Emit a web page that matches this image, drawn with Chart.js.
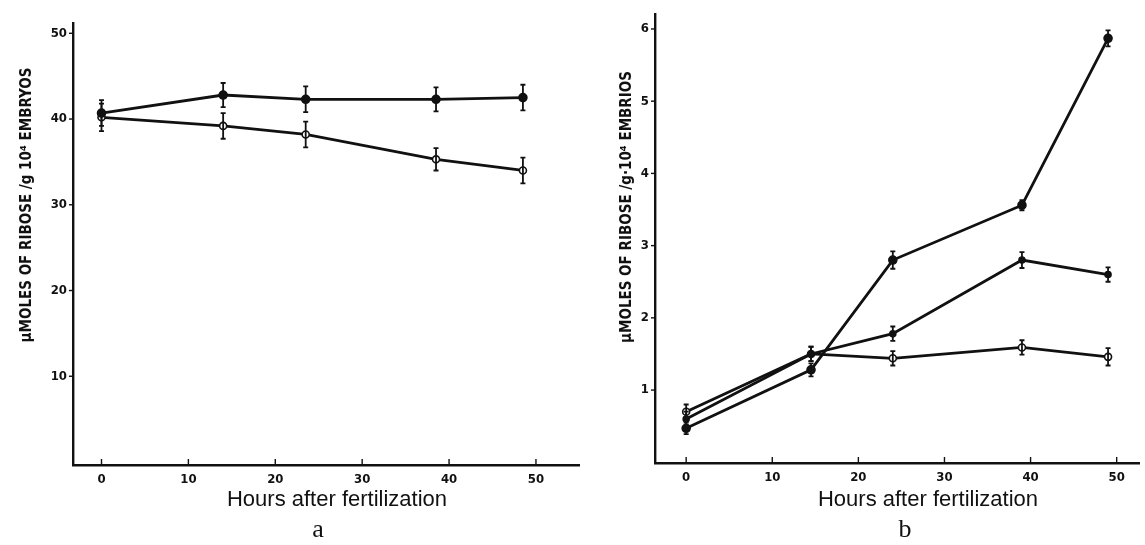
<!DOCTYPE html>
<html>
<head>
<meta charset="utf-8">
<script src="https://cdn.jsdelivr.net/npm/chart.js@4/dist/chart.umd.min.js"></script>
<style>
  body { margin: 0; background: #fff; }
  canvas { position: absolute; top: 0; }
  #chartA { left: 0; }
  #chartB { left: 585px; }
</style>
</head>
<body>
<canvas id="chartA" width="585" height="545"></canvas>
<canvas id="chartB" width="560" height="545"></canvas>
<script>
// panel a
const hoursA = [0, 14, 23.5, 38.5, 48.5];
const aFilled = [40.7, 42.8, 42.3, 42.3, 42.5];
const aFilledErr = [1.5, 1.4, 1.5, 1.4, 1.5];
const aOpen = [40.2, 39.2, 38.2, 35.3, 34.0];
const aOpenErr = [1.6, 1.5, 1.5, 1.3, 1.5];
const aXTicks = [0, 10, 20, 30, 40, 50];
const aYTicks = [10, 20, 30, 40, 50];

// panel b
const hoursB = [0, 14.5, 24, 39, 49];
const bSteep = [0.47, 1.28, 2.8, 3.56, 5.87];
const bSteepErr = [0.08, 0.09, 0.12, 0.07, 0.11];
const bMid = [0.6, 1.5, 1.78, 2.8, 2.6];
const bMidErr = [0.1, 0.1, 0.1, 0.11, 0.1];
const bFlat = [0.7, 1.5, 1.44, 1.59, 1.46];
const bFlatErr = [0.1, 0.1, 0.1, 0.1, 0.12];
const bXTicks = [0, 10, 20, 30, 40, 50];
const bYTicks = [1, 2, 3, 4, 5, 6];

const INK = '#111';
const TICK_FONT = { family: '"DejaVu Sans Condensed", "DejaVu Sans", sans-serif', size: 13, weight: 'bold' };

function series(xs, ys, errs, open, radius) {
    return {
        data: xs.map((x, i) => ({ x: x, y: ys[i] })),
        errs: errs,
        borderColor: INK,
        borderWidth: 2.8,
        pointRadius: radius,
        pointBorderWidth: 1.6,
        pointBorderColor: INK,
        pointBackgroundColor: open ? '#fff' : INK,
        tension: 0
    };
}

// error bars, inner tick marks and the hand placed texts
const decorations = {
    id: 'decorations',
    afterDatasetsDraw(chart, args, opts) {
        const ctx = chart.ctx;
        const xs = chart.scales.x, ys = chart.scales.y;
        ctx.save();
        ctx.strokeStyle = INK;
        ctx.lineWidth = 1.8;
        chart.data.datasets.forEach(ds => {
            ds.data.forEach((p, i) => {
                const e = ds.errs[i];
                const px = xs.getPixelForValue(p.x);
                const top = ys.getPixelForValue(p.y + e);
                const bot = ys.getPixelForValue(p.y - e);
                ctx.beginPath();
                ctx.moveTo(px, top); ctx.lineTo(px, bot);
                ctx.moveTo(px - 2.5, top); ctx.lineTo(px + 2.5, top);
                ctx.moveTo(px - 2.5, bot); ctx.lineTo(px + 2.5, bot);
                ctx.stroke();
            });
        });
        // x ticks point up into the plot, y ticks point out
        const area = chart.chartArea;
        ctx.lineWidth = 1.4;
        opts.xTicks.forEach(v => {
            const px = xs.getPixelForValue(v);
            ctx.beginPath();
            ctx.moveTo(px, area.bottom); ctx.lineTo(px, area.bottom - 6);
            ctx.stroke();
        });
        opts.yTicks.forEach(v => {
            const py = ys.getPixelForValue(v);
            ctx.beginPath();
            ctx.moveTo(area.left - 4, py); ctx.lineTo(area.left + 1, py);
            ctx.stroke();
        });

        ctx.fillStyle = INK;
        ctx.textAlign = 'center';
        ctx.textBaseline = 'middle';
        ctx.font = '22px "Liberation Sans", Arial, sans-serif';
        ctx.fillText('Hours after fertilization', opts.xTitle[0], opts.xTitle[1]);
        ctx.font = '26px "Liberation Serif", "DejaVu Serif", serif';
        ctx.fillText(opts.panel, opts.panelAt[0], opts.panelAt[1]);

        ctx.translate(opts.yTitle[0], opts.yTitle[1]);
        ctx.rotate(-Math.PI / 2);
        ctx.font = 'bold 15px "DejaVu Sans Condensed", "DejaVu Sans", sans-serif';
        ctx.fillText(opts.yText, 0, 0);
        ctx.restore();
    }
};

function makePanel(id, datasets, o) {
    return new Chart(document.getElementById(id), {
        type: 'line',
        data: { datasets: datasets },
        plugins: [decorations],
        options: {
            responsive: false,
            animation: false,
            layout: { padding: { top: o.top, right: o.right, left: 0, bottom: 0 } },
            plugins: {
                legend: { display: false },
                tooltip: { enabled: false },
                decorations: o.deco
            },
            scales: {
                x: {
                    type: 'linear',
                    min: o.xMin, max: o.xMax,
                    afterBuildTicks: s => { s.ticks = o.deco.xTicks.map(v => ({ value: v })); },
                    afterFit: s => { s.height = o.xHeight; },
                    grid: { drawOnChartArea: false, drawTicks: false },
                    border: { display: true, color: INK, width: 2.4 },
                    ticks: { color: INK, padding: 7, font: TICK_FONT }
                },
                y: {
                    min: o.yMin, max: o.yMax,
                    afterBuildTicks: s => { s.ticks = o.deco.yTicks.map(v => ({ value: v })); },
                    afterFit: s => { s.width = o.yWidth; },
                    grid: { drawOnChartArea: false, drawTicks: false },
                    border: { display: true, color: INK, width: 2.4 },
                    ticks: { color: INK, padding: 6, font: TICK_FONT }
                }
            }
        }
    });
}

makePanel('chartA', [
    series(hoursA, aFilled, aFilledErr, false, 4),
    series(hoursA, aOpen, aOpenErr, true, 3.5)
], {
    top: 23, right: 2, xHeight: 80, yWidth: 73,
    xMin: -3.28, xMax: 55.0, yMin: -0.35, yMax: 51.2,
    deco: {
        xTicks: aXTicks, yTicks: aYTicks,
        xTitle: [337, 500], panel: 'a', panelAt: [318, 530],
        yTitle: [27, 205], yText: 'μMOLES OF RIBOSE /g 10⁴ EMBRYOS'
    }
});

makePanel('chartB', [
    series(hoursB, bSteep, bSteepErr, false, 4),
    series(hoursB, bMid, bMidErr, false, 3),
    series(hoursB, bFlat, bFlatErr, true, 3.5)
], {
    top: 13, right: 0, xHeight: 82, yWidth: 70,
    xMin: -3.62, xMax: 52.64, yMin: -0.01, yMax: 6.21,
    deco: {
        xTicks: bXTicks, yTicks: bYTicks,
        xTitle: [343, 500], panel: 'b', panelAt: [320, 530],
        yTitle: [42, 207], yText: 'μMOLES OF RIBOSE /g·10⁴ EMBRIOS'
    }
});
</script>
</body>
</html>
